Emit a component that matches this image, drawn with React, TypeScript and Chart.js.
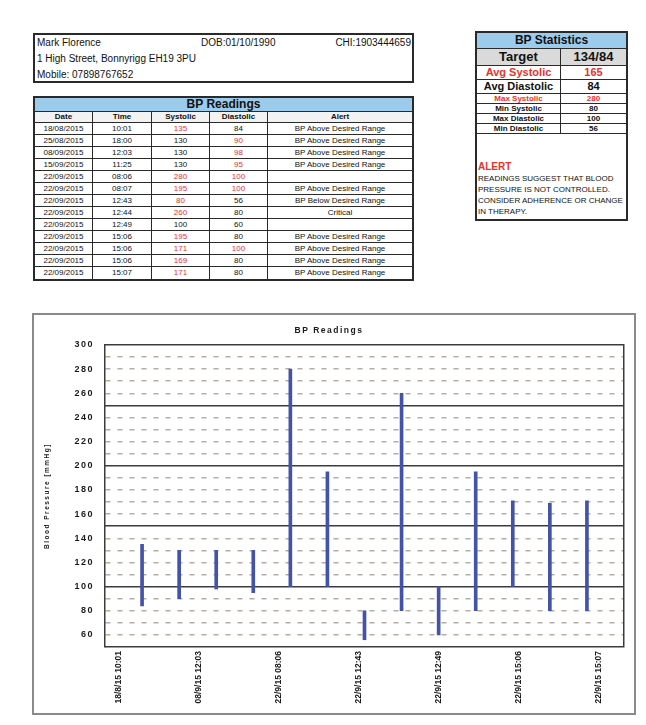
import React, { useEffect, useRef } from 'react';
import { Chart, registerables } from 'chart.js';

Chart.register(...registerables);

// ---------- data ----------
const patientName = 'Mark Florence';
const patientDob = 'DOB:01/10/1990';
const patientChi = 'CHI:1903444659';
const patientAddress = '1 High Street, Bonnyrigg EH19 3PU';
const patientMobile = 'Mobile: 07898767652';

const tableTitle = 'BP Readings';
const tableHeaders = ['Date', 'Time', 'Systolic', 'Diastolic', 'Alert'];
const readingDates = [
  '18/08/2015', '25/08/2015', '08/09/2015', '15/09/2015', '22/09/2015', '22/09/2015', '22/09/2015',
  '22/09/2015', '22/09/2015', '22/09/2015', '22/09/2015', '22/09/2015', '22/09/2015',
];
const readingTimes = ['10:01', '18:00', '12:03', '11:25', '08:06', '08:07', '12:43', '12:44', '12:49', '15:06', '15:06', '15:06', '15:07'];
const systolic = [135, 130, 130, 130, 280, 195, 80, 260, 100, 195, 171, 169, 171];
const diastolic = [84, 90, 98, 95, 100, 100, 56, 80, 60, 80, 100, 80, 80];
const alerts = [
  'BP Above Desired Range', 'BP Above Desired Range', 'BP Above Desired Range', 'BP Above Desired Range', '',
  'BP Above Desired Range', 'BP Below Desired Range', 'Critical', '', 'BP Above Desired Range',
  'BP Above Desired Range', 'BP Above Desired Range', 'BP Above Desired Range',
];
const targetSystolic = 134;
const targetDiastolic = 84;
const lowSystolic = 90;

const statsTitle = 'BP Statistics';
const targetLabel = 'Target';
const targetValue = '134/84';
const statLabels = ['Avg Systolic', 'Avg Diastolic', 'Max Systolic', 'Min Systolic', 'Max Diastolic', 'Min Diastolic'];
const statValues = ['165', '84', '280', '80', '100', '56'];
const alertTitle = 'ALERT';
const alertLines = ['READINGS SUGGEST THAT BLOOD', 'PRESSURE IS NOT CONTROLLED.', 'CONSIDER ADHERENCE OR CHANGE', 'IN THERAPY.'];

const chartTitle = 'BP Readings';
const yAxisTitle = 'Blood Pressure [mmHg]';
const chartCategories = [
  '18/8/15 10:01', '25/8/15 18:00', '08/9/15 12:03', '15/9/15 11:25', '22/9/15 08:06', '22/9/15 08:07',
  '22/9/15 12:43', '22/9/15 12:44', '22/9/15 12:49', '22/9/15 15:06', '22/9/15 15:06', '22/9/15 15:06', '22/9/15 15:07',
];
const xTickLabels = ['18/8/15 10:01', '08/9/15 12:03', '22/9/15 08:06', '22/9/15 12:43', '22/9/15 12:49', '22/9/15 15:06', '22/9/15 15:07'];
const yMin = 50;
const yMax = 300;

// ---------- styles ----------
const F = 'Arial, "Liberation Sans", sans-serif';
const RED = '#e8322c';
const BLUE_HDR = '#9ccbec';
const GRAY_HDR = '#dadada';
const LINE = '#2a2a2a';
const BAR = '#4353a8';
const DASH = '#b5aca4';
const FRAME = '#3c3c3c';

const spacingPlugin = {
  id: 'letterSpacingPlugin',
  beforeDraw(chart: any) { chart.ctx.letterSpacing = '1.5px'; },
  afterDatasetsDraw(chart: any) { chart.ctx.letterSpacing = '0px'; },
  afterDraw(chart: any) { chart.ctx.letterSpacing = '0px'; },
};

function BPChart() {
  const ref = useRef<HTMLCanvasElement>(null);
  useEffect(() => {
    const labels = ['', ...chartCategories, ''];
    const ranges: any[] = [null, ...diastolic.map((d, i) => [d, systolic[i]]), null];
    const chart = new Chart(ref.current as HTMLCanvasElement, {
      type: 'bar',
      data: {
        labels,
        datasets: [{ data: ranges, backgroundColor: BAR, borderWidth: 0, barThickness: 3, xAxisID: 'x', yAxisID: 'y' }],
      },
      options: {
        animation: false,
        responsive: false,
        devicePixelRatio: 1,
        layout: { padding: { left: 0, right: 10, top: 0, bottom: 0 } },
        plugins: {
          legend: { display: false },
          tooltip: { enabled: false },
          title: {
            display: true,
            text: chartTitle,
            color: '#1a1a1a',
            font: { family: F, size: 8.5, weight: 'bold' },
            padding: { top: 11, bottom: 8.8 },
          },
        },
        scales: {
          x: { type: 'category', display: false, offset: false },
          xl: {
            type: 'linear',
            position: 'bottom',
            offset: false,
            min: -0.175,
            max: 6.3125,
            afterBuildTicks: (s: any) => { s.ticks = xTickLabels.map((_, i) => ({ value: i })); },
            afterFit: (s: any) => { s.height = 66; },
            grid: { display: false, drawTicks: false, offset: false },
            border: { display: false },
            ticks: {
              autoSkip: false,
              minRotation: 90,
              maxRotation: 90,
              padding: 4,
              z: 1,
              color: '#1a1a1a',
              font: { family: F, size: 8.5, weight: 'bold' },
              callback: (v: any) => (Number.isInteger(v) ? xTickLabels[v] : ''),
            },
          },
          y: {
            type: 'linear',
            position: 'left',
            min: yMin,
            max: yMax,
            afterFit: (s: any) => { s.width = 71; },
            ticks: {
              stepSize: 10,
              autoSkip: false,
              padding: 11,
              color: '#1a1a1a',
              font: { family: F, size: 9, weight: 'bold' },
              callback: (v: any) => (v % 20 === 0 ? String(v) : ''),
            },
            grid: {
              drawTicks: false,
              lineWidth: 1.5,
              color: (c: any) => (c.tick && c.tick.value % 50 === 0 ? 'rgba(0,0,0,0)' : DASH),
            },
            border: { display: true, color: FRAME, width: 1.5, dash: [5, 7] },
            title: {
              display: true,
              text: yAxisTitle,
              color: '#1a1a1a',
              font: { family: F, size: 6.5, weight: 'bold' },
              padding: { top: 9, bottom: 0 },
            },
          },
          y2: {
            type: 'linear',
            position: 'right',
            min: yMin,
            max: yMax,
            afterFit: (s: any) => { s.width = 0; },
            ticks: { display: false, stepSize: 50 },
            grid: { drawTicks: false, lineWidth: 1.5, color: FRAME },
            border: { display: true, color: FRAME, width: 1.5 },
          },
        },
      } as any,
      plugins: [spacingPlugin as any],
    });
    return () => chart.destroy();
  }, []);
  return <canvas ref={ref} width={600} height={398} style={{ display: 'block', width: 600, height: 398 }} />;
}

const cell = (extra: React.CSSProperties = {}): React.CSSProperties => ({
  boxSizing: 'border-box',
  textAlign: 'center',
  overflow: 'hidden',
  whiteSpace: 'nowrap',
  ...extra,
});

export default function App() {
  const colTemplate = '58px 59px 58px 58px 1fr';
  const rowH = 12;
  return (
    <div style={{ position: 'absolute', left: 0, top: 0, width: 646, height: 725, background: '#fff', fontFamily: F, color: '#111' }}>
      {/* patient box */}
      <div style={{ position: 'absolute', left: 33, top: 33, width: 381, height: 50, border: `2px solid ${LINE}`, boxSizing: 'border-box', fontSize: 10 }}>
        <div style={{ position: 'absolute', left: 2, top: 1, lineHeight: '13px' }}>{patientName}</div>
        <div style={{ position: 'absolute', left: 166, top: 1, lineHeight: '13px' }}>{patientDob}</div>
        <div style={{ position: 'absolute', right: 1, top: 1, lineHeight: '13px' }}>{patientChi}</div>
        <div style={{ position: 'absolute', left: 2, top: 17, lineHeight: '13px' }}>{patientAddress}</div>
        <div style={{ position: 'absolute', left: 2, top: 33, lineHeight: '13px' }}>{patientMobile}</div>
      </div>

      {/* readings table */}
      <div style={{ position: 'absolute', left: 33, top: 96, width: 381, border: `2px solid ${LINE}`, boxSizing: 'border-box' }}>
        <div style={cell({ height: 14, lineHeight: '13px', background: BLUE_HDR, borderBottom: `1px solid ${LINE}`, fontWeight: 'bold', fontSize: 12 })}>{tableTitle}</div>
        <div style={{ display: 'grid', gridTemplateColumns: colTemplate }}>
          {tableHeaders.map((h, i) => (
            <div key={'h' + i} style={cell({ height: 11, lineHeight: '10px', fontSize: 8, fontWeight: 'bold', background: '#f2f2f2', borderBottom: `1px solid ${LINE}`, borderRight: i < 4 ? `1px solid ${LINE}` : 'none' })}>{h}</div>
          ))}
          {readingDates.map((d, r) => {
            const last = r === readingDates.length - 1;
            const base = (i: number, extra: React.CSSProperties = {}) => cell({ height: rowH, lineHeight: '11px', fontSize: 8, borderBottom: last ? 'none' : `1px solid ${LINE}`, borderRight: i < 4 ? `1px solid ${LINE}` : 'none', ...extra });
            const sRed = systolic[r] > targetSystolic || systolic[r] < lowSystolic;
            const dRed = diastolic[r] > targetDiastolic;
            return (
              <React.Fragment key={'r' + r}>
                <div style={base(0)}>{d}</div>
                <div style={base(1)}>{readingTimes[r]}</div>
                <div style={base(2, { color: sRed ? RED : '#111' })}>{systolic[r]}</div>
                <div style={base(3, { color: dRed ? RED : '#111' })}>{diastolic[r]}</div>
                <div style={base(4)}>{alerts[r]}</div>
              </React.Fragment>
            );
          })}
        </div>
      </div>

      {/* statistics box */}
      <div style={{ position: 'absolute', left: 475, top: 31, width: 153, height: 190, border: `2px solid ${LINE}`, boxSizing: 'border-box' }}>
        <div style={cell({ height: 16, lineHeight: '15px', background: BLUE_HDR, borderBottom: `1px solid ${LINE}`, fontWeight: 'bold', fontSize: 12 })}>{statsTitle}</div>
        <div style={{ display: 'grid', gridTemplateColumns: '84px 1fr' }}>
          <div style={cell({ height: 17, lineHeight: '16px', background: GRAY_HDR, fontWeight: 'bold', fontSize: 13, borderRight: `1px solid ${LINE}`, borderBottom: `1px solid ${LINE}` })}>{targetLabel}</div>
          <div style={cell({ height: 17, lineHeight: '16px', background: GRAY_HDR, fontWeight: 'bold', fontSize: 13, borderBottom: `1px solid ${LINE}` })}>{targetValue}</div>
          {statLabels.map((lab, i) => {
            const big = i < 2;
            const red = i === 0 || i === 2;
            const h = big ? 14 : 10;
            const st = { height: h, lineHeight: h - 1 + 'px', fontWeight: 'bold', fontSize: big ? 11 : 8, color: red ? RED : '#111', borderBottom: `1px solid ${LINE}` } as React.CSSProperties;
            return (
              <React.Fragment key={'s' + i}>
                <div style={cell({ ...st, borderRight: `1px solid ${LINE}` })}>{lab}</div>
                <div style={cell(st)}>{statValues[i]}</div>
              </React.Fragment>
            );
          })}
        </div>
        <div style={{ position: 'absolute', left: 1, top: 128, fontSize: 10, fontWeight: 'bold', color: RED, lineHeight: '12px' }}>{alertTitle}</div>
        {alertLines.map((t, i) => (
          <div key={'a' + i} style={{ position: 'absolute', left: 1, top: 140 + i * 11, fontSize: 8, lineHeight: '11px', whiteSpace: 'nowrap' }}>{t}</div>
        ))}
      </div>

      {/* chart */}
      <div style={{ position: 'absolute', left: 32, top: 313, width: 604, height: 402, border: '2px solid #8a8a8a', boxSizing: 'border-box' }}>
        <BPChart />
      </div>
    </div>
  );
}
